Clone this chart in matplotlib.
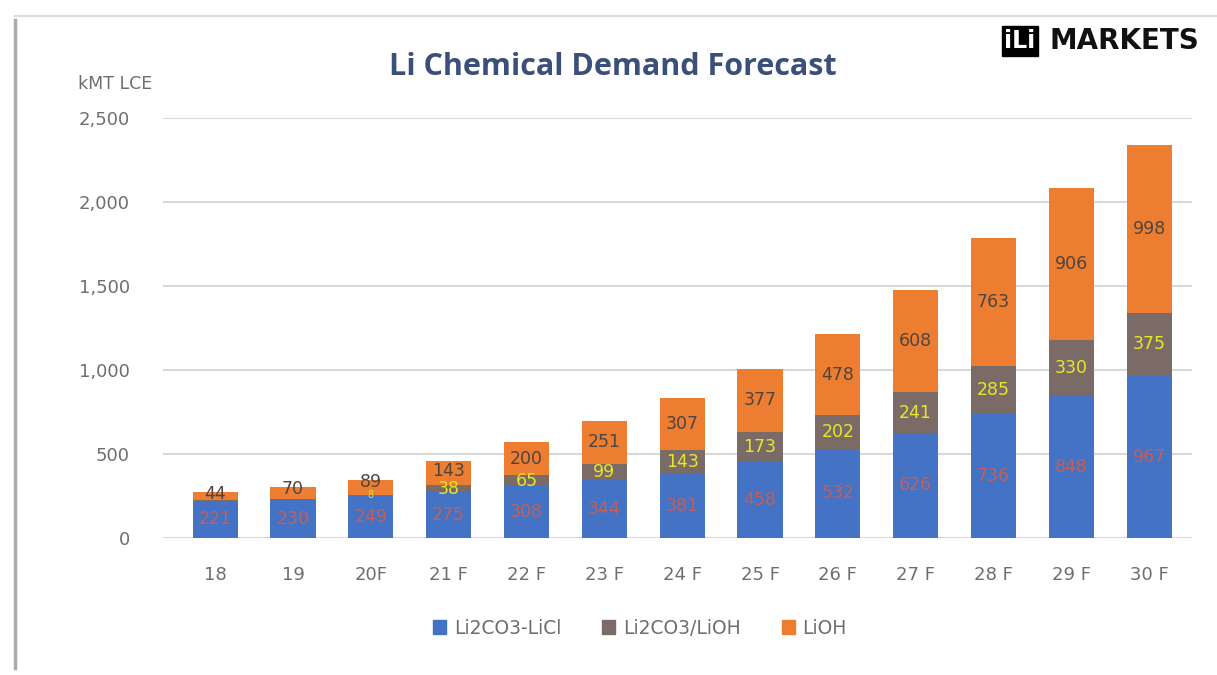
import numpy as np
import matplotlib
matplotlib.use("Agg")
import matplotlib.pyplot as plt
from matplotlib.lines import Line2D

# data (kMT LCE)
years = ["18", "19", "20F", "21 F", "22 F", "23 F", "24 F", "25 F", "26 F",
         "27 F", "28 F", "29 F", "30 F"]
li2co3_licl = [221, 230, 249, 275, 308, 344, 381, 458, 532, 626, 736, 848, 967]
li2co3_lioh = [6, 5, 8, 38, 65, 99, 143, 173, 202, 241, 285, 330, 375]
lioh = [44, 70, 89, 143, 200, 251, 307, 377, 478, 608, 763, 906, 998]

series_names = ["Li2CO3-LiCl", "Li2CO3/LiOH", "LiOH"]
colors = ["#4472C4", "#7B6B66", "#ED7D31"]
label_colors = ["#C0605A", "#E6E62A", "#4F4540"]

W, H = 1217, 675
fig = plt.figure(figsize=(W / 100, H / 100), dpi=100)
fig.patch.set_facecolor("white")

ax = fig.add_axes([163 / W, 1 - 538 / H, (1192 - 163) / W, (538 - 118) / H])

x = np.arange(len(years))
bottom = np.zeros(len(years))
for k, (vals, name, col, lcol) in enumerate(zip([li2co3_licl, li2co3_lioh, lioh],
                                               series_names, colors, label_colors)):
    vals = np.array(vals, dtype=float)
    ax.bar(x, vals, width=0.58, bottom=bottom, color=col, label=name, zorder=3)
    for xi, b, v in zip(x, bottom, vals):
        if v < 8:
            continue
        yc = b + v / 2
        fs = 12.5
        if k == 1 and v < 30:
            fs = 7          # tiny segment, tiny label
        if k == 2 and v < 100:
            yc = b + v * 0.85
        elif k == 2 and v < 150:
            yc = b + v * 0.62
        ax.text(xi, yc, f"{int(v)}", ha="center", va="center",
                fontsize=fs, color=lcol, zorder=4)
    bottom += vals

ax.set_xlim(-0.67, 12.55)
ax.set_ylim(0, 2500)
ax.set_yticks(np.arange(0, 2501, 500))
ax.set_yticklabels([f"{v:,}" for v in range(0, 2501, 500)])
ax.set_xticks(x)
ax.set_xticklabels(years)
ax.tick_params(axis="both", length=0, labelsize=13, colors="#6E6E6E")
ax.tick_params(axis="y", pad=24)
ax.tick_params(axis="x", pad=20)
ax.grid(axis="y", color="#D9D9D9", linewidth=1.5, zorder=0)
for s in ax.spines.values():
    s.set_visible(False)

# title, unit, logo
fig.text(613 / W, 1 - 67 / H, "Li Chemical Demand Forecast", ha="center",
         va="center", fontsize=22, fontweight="bold", color="#3A4F7A",
         family="Open Sans")
fig.text(115 / W, 1 - 84 / H, "kMT LCE", ha="center", va="center",
         fontsize=12.5, color="#6E6E6E")
fig.text(1020 / W, 1 - 41 / H, "iLi", ha="center", va="center", fontsize=17,
         fontweight="bold", color="white",
         bbox=dict(boxstyle="square,pad=0.12", facecolor="black",
                   edgecolor="black"))
fig.text(1050 / W, 1 - 41 / H, "MARKETS", ha="left", va="center",
         fontsize=20, fontweight="bold", color="#111111")

# legend
handles = [plt.Rectangle((0, 0), 1, 1, color=c) for c in colors]
fig.legend(handles, series_names, loc="center", ncol=3,
           bbox_to_anchor=(640 / W, 1 - 628 / H), frameon=False,
           fontsize=13.5, handlelength=0.7, handleheight=0.7,
           columnspacing=2.2, handletextpad=0.4, labelcolor="#6E6E6E")

# screenshot frame
fig.add_artist(Line2D([15 / W, 15 / W], [1 - 20 / H, 1 - 668 / H],
                      transform=fig.transFigure, color="#AAAAAA", lw=2.5))
fig.add_artist(Line2D([15 / W, 1], [1 - 16 / H, 1 - 16 / H],
                      transform=fig.transFigure, color="#DDDDDD", lw=1.5))

fig.savefig("out.png", dpi=100)
